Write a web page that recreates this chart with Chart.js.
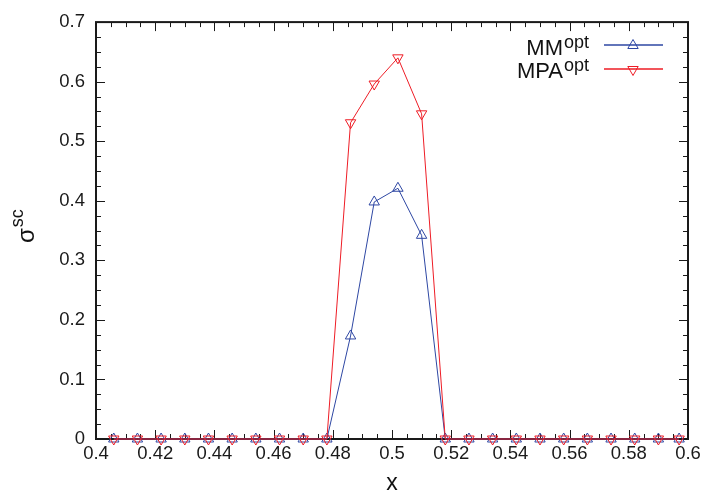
<!DOCTYPE html>
<html><head><meta charset="utf-8">
<script src="https://cdn.jsdelivr.net/npm/chart.js@4/dist/chart.umd.min.js"></script>
<style>html,body{margin:0;padding:0;background:#fff;overflow:hidden}#wrap{width:707px;height:493px}</style>
</head><body><div id="wrap"><canvas id="c" width="707" height="493"></canvas></div>
<script>
const xValues = [0.406,0.414,0.422,0.430,0.438,0.446,0.454,0.462,0.470,0.478,0.486,0.494,0.502,0.510,0.518,0.526,0.534,0.542,0.550,0.558,0.566,0.574,0.582,0.590,0.597];
const mmValues  = [0,0,0,0,0,0,0,0,0,0,0.173,0.398,0.421,0.342,0,0,0,0,0,0,0,0,0,0,0];
const mpaValues = [0,0,0,0,0,0,0,0,0,0,0.531,0.596,0.640,0.546,0,0,0,0,0,0,0,0,0,0,0];
const xTickValues = [0.40,0.42,0.44,0.46,0.48,0.50,0.52,0.54,0.56,0.58,0.60];
const xTickLabels = ['0.4','0.42','0.44','0.46','0.48','0.5','0.52','0.54','0.56','0.58','0.6'];
const yTickValues = [0,0.1,0.2,0.3,0.4,0.5,0.6,0.7];
const yTickLabels = ['0','0.1','0.2','0.3','0.4','0.5','0.6','0.7'];
const seriesNames = ['MM','MPA'];
const seriesSup = 'opt';

const FONT = "'Liberation Sans', Arial, Helvetica, sans-serif";
const BLUE = '#2e47a3';
const RED = '#ee1c25';
const INK = '#1a1a1a';

const frameTicks = {
  id: 'frameTicks',
  beforeDatasetsDraw(chart) {
    const {ctx, chartArea: a, scales: {x, y}} = chart;
    ctx.save();
    ctx.strokeStyle = INK;
    ctx.lineWidth = 1;
    const major = 9, minor = 5;
    const tick = (px, py, dx, dy) => { ctx.beginPath(); ctx.moveTo(px, py); ctx.lineTo(px + dx, py + dy); ctx.stroke(); };
    for (let i = 0; i < xTickValues.length; i++) {
      const px = Math.round(x.getPixelForValue(xTickValues[i])) + 0.5;
      tick(px, a.bottom, 0, -major); tick(px, a.top, 0, major);
      if (i < xTickValues.length - 1) {
        const step = (xTickValues[i + 1] - xTickValues[i]) / 4;
        for (let k = 1; k < 4; k++) {
          const mx = Math.round(x.getPixelForValue(xTickValues[i] + k * step)) + 0.5;
          tick(mx, a.bottom, 0, -minor); tick(mx, a.top, 0, minor);
        }
      }
    }
    for (let i = 0; i < yTickValues.length; i++) {
      const py = Math.round(y.getPixelForValue(yTickValues[i])) + 0.5;
      tick(a.left, py, major, 0); tick(a.right, py, -major, 0);
      if (i < yTickValues.length - 1) {
        const step = (yTickValues[i + 1] - yTickValues[i]) / 4;
        for (let k = 1; k < 4; k++) {
          const my = Math.round(y.getPixelForValue(yTickValues[i] + k * step)) + 0.5;
          tick(a.left, my, minor, 0); tick(a.right, my, -minor, 0);
        }
      }
    }
    ctx.lineWidth = 2;
    ctx.strokeRect(a.left, a.top, a.right - a.left, a.bottom - a.top);
    ctx.restore();
  }
};

function drawTri(ctx, cx, cy, r, down, color) {
  ctx.save();
  ctx.strokeStyle = color; ctx.lineWidth = 1;
  ctx.translate(cx, cy);
  if (down) ctx.rotate(Math.PI);
  ctx.beginPath();
  for (let k = 0; k < 3; k++) {
    const ang = k * 2 * Math.PI / 3;
    const px = Math.sin(ang) * r, py = -Math.cos(ang) * r;
    if (k === 0) ctx.moveTo(px, py); else ctx.lineTo(px, py);
  }
  ctx.closePath(); ctx.stroke();
  ctx.restore();
}

const textsPlugin = {
  id: 'texts',
  afterDraw(chart) {
    const {ctx, chartArea: a} = chart;
    ctx.save();
    ctx.fillStyle = '#111';
    ctx.font = '23px ' + FONT;
    ctx.textAlign = 'center'; ctx.textBaseline = 'alphabetic';
    ctx.fillText('x', (a.left + a.right) / 2, 490);
    ctx.save();
    ctx.translate(34, 243);
    ctx.rotate(-Math.PI / 2);
    ctx.textAlign = 'left';
    ctx.font = '24px ' + FONT;
    ctx.fillText('σ', 0, 0);
    const w = ctx.measureText('σ').width;
    ctx.font = '18px ' + FONT;
    ctx.fillText('sc', w + 1, -11);
    ctx.restore();
    const entries = [
      {name: seriesNames[0], base: 55, lineY: 45, color: BLUE, down: false},
      {name: seriesNames[1], base: 78, lineY: 69, color: RED, down: true}
    ];
    for (const e of entries) {
      ctx.fillStyle = '#111';
      ctx.font = '18px ' + FONT;
      const sw = ctx.measureText(seriesSup).width;
      const supStart = 589 - sw;
      ctx.textAlign = 'left';
      ctx.fillText(seriesSup, supStart, e.base - 7);
      ctx.font = '22px ' + FONT;
      ctx.textAlign = 'right';
      ctx.fillText(e.name, supStart - 1, e.base);
      ctx.strokeStyle = e.color;
      ctx.lineWidth = 1.3;
      ctx.beginPath(); ctx.moveTo(604, e.lineY); ctx.lineTo(663, e.lineY); ctx.stroke();
      drawTri(ctx, 633, e.lineY + 0.5, 6, e.down, e.color);
    }
    ctx.restore();
  }
};

const mk = (vals) => xValues.map((xv, i) => ({x: xv, y: vals[i]}));

new Chart(document.getElementById('c'), {
  type: 'line',
  data: {
    datasets: [
      {label: 'MM', order: 1, data: mk(mmValues), borderColor: BLUE, borderWidth: 1, pointStyle: 'triangle',
       pointRadius: 6, pointBorderWidth: 1, pointBackgroundColor: 'rgba(0,0,0,0)', pointBorderColor: BLUE,
       tension: 0, clip: false, fill: false},
      {label: 'MPA', order: 0, data: mk(mpaValues), borderColor: RED, borderWidth: 1, pointStyle: 'triangle', pointRotation: 180,
       pointRadius: 6, pointBorderWidth: 1, pointBackgroundColor: 'rgba(0,0,0,0)', pointBorderColor: RED,
       tension: 0, clip: false, fill: false}
    ]
  },
  options: {
    responsive: false, animation: false, devicePixelRatio: 1,
    layout: {padding: {top: 19, right: 19, left: 0, bottom: 0}},
    plugins: {legend: {display: false}, tooltip: {enabled: false}},
    scales: {
      x: {
        type: 'linear', min: 0.4, max: 0.6,
        afterBuildTicks: s => { s.ticks = xTickValues.map(v => ({value: v})); },
        afterFit: s => { s.height = 54; },
        grid: {display: false, drawTicks: false}, border: {display: false},
        ticks: {padding: 4, color: INK, font: {family: FONT, size: 18.5}, maxRotation: 0, autoSkip: false,
                callback: (v, i) => xTickLabels[i]}
      },
      y: {
        type: 'linear', min: 0, max: 0.7,
        afterBuildTicks: s => { s.ticks = yTickValues.map(v => ({value: v})); },
        afterFit: s => { s.width = 96; },
        grid: {display: false, drawTicks: false}, border: {display: false},
        ticks: {padding: 11, color: INK, font: {family: FONT, size: 18.5}, autoSkip: false,
                callback: (v, i) => yTickLabels[i]}
      }
    }
  },
  plugins: [frameTicks, textsPlugin]
});
</script>
</body></html>
